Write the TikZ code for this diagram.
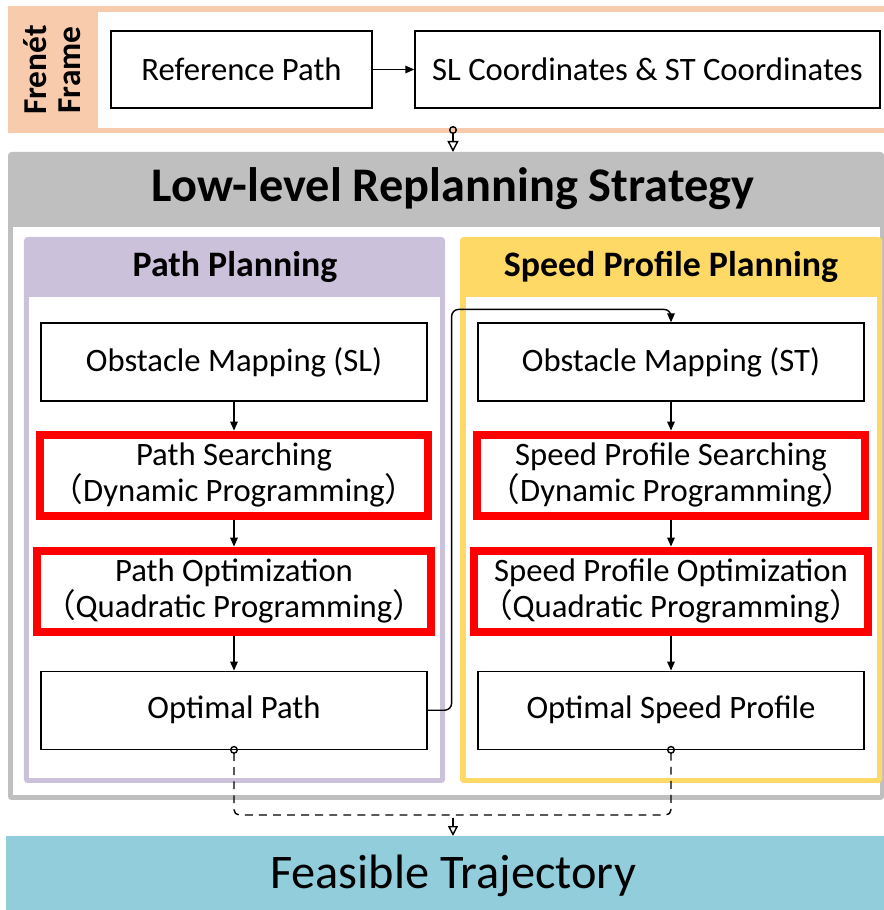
\documentclass[tikz,border=0pt]{standalone}
\usepackage{fontspec}
\setmainfont{Carlito}
\newfontfamily\cjk{Noto Sans CJK SC}
\usetikzlibrary{positioning, arrows.meta}

\definecolor{frenetorange}{HTML}{F8CBAD}
\definecolor{lowgray}{HTML}{BFBFBF}
\definecolor{pathpurple}{HTML}{CCC1DA}
\definecolor{speedyellow}{HTML}{FFD966}
\definecolor{feasblue}{HTML}{92CDDC}

\tikzset{
  box/.style={draw, fill=white, line width=0.7pt, minimum width=7.72cm, minimum height=1.56cm, font=\fontsize{18.6}{20.5}\selectfont},
  redbox/.style={draw=red, fill=white, line width=0.16cm, minimum width=7.76cm, minimum height=1.62cm, align=center, font=\fontsize{18.6}{20.5}\selectfont},
  header/.style={font=\bfseries\fontsize{20.4}{24}\selectfont},
  link/.style={line width=0.8pt, -{Triangle[length=0.18cm, width=0.15cm]}},
  dashlink/.style={line width=0.8pt, dash pattern=on 4.5pt off 3.5pt},
}

\begin{document}
\begin{tikzpicture}
\useasboundingbox (0,0) rectangle (17.68,18.2);

% Frenet frame
\fill[frenetorange] (0.16,15.54) rectangle (17.68,18.08);
\fill[white] (1.96,15.64) rectangle (17.68,17.96);
\node[rotate=90, align=center, font=\bfseries\fontsize{19}{19.5}\selectfont] (frenet) at (1.04,16.8) {Frenét\\Frame};
\node[box, minimum width=5.22cm, minimum height=1.54cm] (refpath) at (4.83,16.81) {Reference Path};
\node[box, minimum width=9.3cm, minimum height=1.54cm] (slst) at (12.95,16.81) {SL Coordinates \& ST Coordinates};
\draw[link] (refpath) -- (slst);

% low-level frame
\fill[lowgray, rounded corners=2pt] (0.16,2.2) rectangle (17.68,15.16);
\fill[white] (0.26,2.3) rectangle (17.6,13.66);
\node[font=\bfseries\fontsize{27.5}{30}\selectfont] (lowtitle) at (9.06,14.42) {Low-level Replanning Strategy};
\coordinate (frenetout) at (9.06,15.68);
\coordinate (lowin) at (9.06,15.16);
\draw[line width=0.8pt, {Circle[open, length=0.16cm]}-{Triangle[open, length=0.22cm, width=0.22cm]}] (frenetout) -- (lowin);

% panels
\fill[pathpurple, rounded corners=2pt] (0.48,2.54) rectangle (8.9,13.46);
\fill[white] (0.58,2.64) rectangle (8.8,12.26);
\node[header] (pathtitle) at (4.7,12.86) {Path Planning};
\fill[speedyellow, rounded corners=2pt] (9.2,2.54) rectangle (17.64,13.46);
\fill[white] (9.32,2.64) rectangle (17.54,12.26);
\node[header] (speedtitle) at (13.42,12.86) {Speed Profile Planning};

% path planning
\node[box] (omsl) at (4.68,10.96) {Obstacle Mapping (SL)};
\node[redbox, below=0.58cm of omsl] (psearch) {Path Searching\\{\cjk（}Dynamic Programming{\cjk）}};
\node[redbox, below=0.54cm of psearch] (popt) {Path Optimization\\{\cjk（}Quadratic Programming{\cjk）}};
\node[box, below=0.7cm of popt] (optpath) {Optimal Path};

% speed profile planning
\node[box] (omst) at (13.42,10.96) {Obstacle Mapping (ST)};
\node[redbox, below=0.58cm of omst] (ssearch) {Speed Profile Searching\\{\cjk（}Dynamic Programming{\cjk）}};
\node[redbox, below=0.54cm of ssearch] (sopt) {Speed Profile Optimization\\{\cjk（}Quadratic Programming{\cjk）}};
\node[box, below=0.7cm of sopt] (optspeed) {Optimal Speed Profile};

\draw[link] (omsl) -- (psearch);
\draw[link] (psearch) -- (popt);
\draw[link] (popt) -- (optpath);
\draw[link] (omst) -- (ssearch);
\draw[link] (ssearch) -- (sopt);
\draw[link] (sopt) -- (optspeed);
\draw[link, rounded corners=4pt] (optpath.east) -- ++(0.48,0) |- ([yshift=0.26cm]omst.north) -- (omst.north);

% feasible trajectory
\fill[feasblue] (0.12,0) rectangle (17.68,1.48);
\node[font=\fontsize{27.5}{30}\selectfont] (feasible) at (9.06,0.68) {Feasible Trajectory};
\coordinate (merge) at (9.06,1.9);
\coordinate (feasin) at (9.06,1.48);
\draw[dashlink, rounded corners=3pt, {Circle[open, length=0.16cm]}-{Circle[open, length=0.16cm]}] ([yshift=0.08cm]optpath.south) |- (merge) -| ([yshift=0.08cm]optspeed.south);
\draw[dashlink, -{Triangle[open, length=0.2cm, width=0.2cm]}] ([yshift=-0.06cm]merge) -- (feasin);

\end{tikzpicture}
\end{document}
